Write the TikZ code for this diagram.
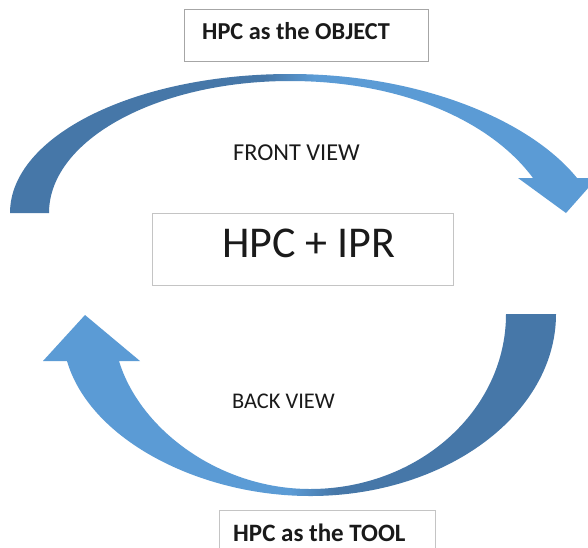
\documentclass[tikz,border=0pt]{standalone}
\usepackage{fontspec}
\setmainfont{Carlito}
\definecolor{arrowdark}{HTML}{4677A8}
\definecolor{arrowlight}{HTML}{5B9BD5}
\definecolor{boxline}{HTML}{A6A6A6}
\definecolor{boxlinelight}{HTML}{C4C4C4}
\definecolor{ink}{HTML}{1A1A1A}

% outline of the upper curved arrow (points right, down)
\def\upperarrow{(10,213) .. controls (10,136) and (135,74) .. (290,74)
  .. controls (420,74) and (530,120) .. (577,178) -- (597,178) -- (566,213)
  -- (518,178) -- (533,178) .. controls (490,120) and (400,81) .. (290,81)
  .. controls (157,81) and (49,140) .. (49,213) -- cycle}
% outline of the lower curved arrow (points left, up)
\def\lowerarrow{(556,314) .. controls (556,414) and (446,496) .. (310,496)
  .. controls (200,496) and (90,440) .. (67,361) -- (43,361) -- (85,315)
  -- (140,361) -- (119,361) .. controls (140,430) and (220,489) .. (310,489)
  .. controls (418,489) and (506,411) .. (506,314) -- cycle}

\begin{document}
\begin{tikzpicture}[x=1pt,y=-1pt,
  framebox/.style={draw=#1, line width=1.4pt, fill=white, inner sep=0pt},
  caption/.style={anchor=base west, text=ink, inner sep=0pt}]
\useasboundingbox (0,0) rectangle (588,547);
\fill[white] (0,0) rectangle (588,547);

% upper arrow: dark on the left, light on the right
\begin{scope}
  \clip \upperarrow;
  \fill[arrowdark] (0,0) rectangle (265,300);
  \shade[left color=arrowdark, right color=arrowlight] (265,0) rectangle (315,300);
  \fill[arrowlight] (315,0) rectangle (620,300);
\end{scope}

% lower arrow: light on the left, dark on the right
\begin{scope}
  \clip \lowerarrow;
  \fill[arrowlight] (0,300) rectangle (290,547);
  \shade[left color=arrowlight, right color=arrowdark] (290,300) rectangle (335,547);
  \fill[arrowdark] (335,300) rectangle (600,547);
\end{scope}

% boxes
\node[framebox=boxline, minimum width=244pt, minimum height=52pt, anchor=north west] (objbox) at (184,9) {};
\node[caption, font=\fontsize{24.3}{29}\selectfont\bfseries] (objtxt) at (202,39) {HPC as the OBJECT};

\node[framebox=boxlinelight, minimum width=301pt, minimum height=72pt, anchor=north west] (centerbox) at (152,213) {};
\node[caption, font=\fontsize{44}{52}\selectfont] (centertxt) at (222,257) {HPC + IPR};

\node[framebox=boxlinelight, minimum width=216pt, minimum height=60pt, anchor=north west] (toolbox) at (219,510) {};
\node[caption, font=\fontsize{25}{30}\selectfont\bfseries] (tooltxt) at (233,541) {HPC as the TOOL};

% labels inside the cycle
\node[caption, font=\fontsize{24.3}{29}\selectfont] (front) at (233,160) {FRONT VIEW};
\node[caption, font=\fontsize{22.4}{27}\selectfont] (back) at (232,408) {BACK VIEW};
\end{tikzpicture}
\end{document}
